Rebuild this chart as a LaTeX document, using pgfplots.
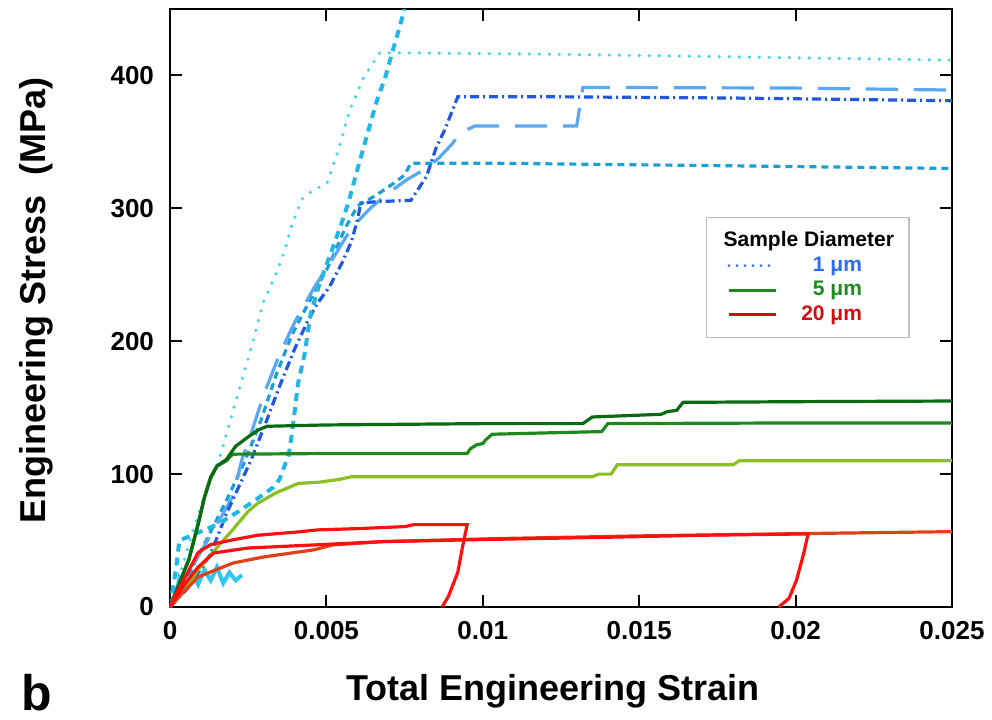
\documentclass[border=0pt]{standalone}
\usepackage{fontspec}
\setmainfont{Liberation Sans}
\usepackage{pgfplots}
\pgfplotsset{compat=1.18}
\definecolor{cdot}{HTML}{40D4F2}
\definecolor{cheavy}{HTML}{22B6E6}
\definecolor{cdashdot}{HTML}{2058E0}
\definecolor{clong}{HTML}{5AA8F0}
\definecolor{cmed}{HTML}{1AA0D8}
\definecolor{cnoise}{HTML}{30C6F2}
\definecolor{gdark}{HTML}{0B6B12}
\definecolor{gmid}{HTML}{1E8A1E}
\definecolor{glight}{HTML}{8CBF26}
\definecolor{rred}{HTML}{FF1010}
\definecolor{rorange}{HTML}{E0401A}
\definecolor{legblue}{HTML}{2A6CF0}
\definecolor{leggreen}{HTML}{1E8A1E}
\definecolor{legred}{HTML}{D01010}
\begin{document}
\begin{tikzpicture}
\begin{axis}[
  width=391pt, height=299pt, scale only axis,
  xmin=0, xmax=0.025, ymin=0, ymax=450,
  xtick={0,0.005,0.01,0.015,0.02,0.025},
  xticklabels={0,0.005,0.01,0.015,0.02,0.025},
  ytick={0,100,200,300,400},
  scaled x ticks=false,
  tick align=inside, major tick length=6pt,
  axis line style={line width=1pt},
  every tick/.style={black, line width=1pt},
  /pgf/number format/assume math mode=true,
  tick label style={font=\fontsize{13}{13}\selectfont\bfseries},
  yticklabel style={xshift=-4.5pt},
  xticklabel style={yshift=-3.5pt},
  xlabel={\bfseries Total Engineering Strain},
  ylabel={\bfseries Engineering Stress\ \ (MPa)},
  label style={font=\fontsize{18}{18}\selectfont},
  xlabel style={at={(axis description cs:0.5,0)}, anchor=center, yshift=-42pt, xshift=-4pt},
  ylabel style={at={([xshift=-67pt]axis description cs:0,0.513)}, anchor=center},
  legend style={at={(axis description cs:0.6854,0.652)}, anchor=north west,
    draw=black!25, line width=0.6pt, font=\fontsize{10.5}{12.5}\selectfont\bfseries,
    inner xsep=10.5pt, inner ysep=5pt, row sep=-0.5pt},
  legend cell align=right,
  legend image code/.code={\draw[#1] (0pt,0pt) -- (23.5pt,0pt);},
]
\coordinate (A) at (rel axis cs:0,0);
\coordinate (B) at (rel axis cs:1,1);
% ---- 1 micrometre samples ----
\addplot[forget plot, cnoise, line width=2pt] coordinates {
(0,0)(0.0002,8)(0.0003,22)(0.0005,14)(0.0007,26)(0.0009,17)(0.0011,28)(0.0013,20)(0.0015,30)(0.0017,18)(0.0019,26)(0.0021,20)(0.0023,24)};
\addplot[forget plot, cmed, line width=1.6pt, dash pattern=on 3.5pt off 2.5pt] coordinates {
(0,0)(0.0006,25)(0.0012,52)(0.0018,80)(0.0024,110)(0.0029,140)(0.0034,175)(0.0039,205)(0.0045,232)(0.0051,258)(0.0056,285)(0.0060,302)(0.0066,310)(0.0071,318)(0.0075,325)(0.0077,334)(0.010,334)(0.018,332)(0.025,330)};
\addplot[forget plot, clong, line width=1.6pt, dash pattern=on 16pt off 8pt] coordinates {
(0,0)(0.0007,30)(0.0014,58)(0.002,83)(0.0023,111)(0.0026,131)(0.003,160)(0.0035,190)(0.004,215)(0.0046,240)(0.0052,262)(0.0058,285)(0.0064,300)(0.0070,312)(0.0076,322)(0.0082,330)(0.0086,338)(0.0090,348)(0.0093,357)(0.00975,362)(0.0130,362)(0.0132,391)(0.02,390.5)(0.025,389)};
\addplot[forget plot, cdashdot, line width=1.6pt, dash pattern=on 4.5pt off 2pt on 1pt off 2pt] coordinates {
(0,0)(0.0006,15)(0.0013,40)(0.0018,70)(0.0026,111)(0.0031,141)(0.0035,166)(0.0040,195)(0.0044,215)(0.0047,228)(0.0051,241)(0.0055,259)(0.0058,275)(0.0060,292)(0.0061,304)(0.0066,305)(0.0077,306)(0.0082,324)(0.0085,345)(0.0088,360)(0.0092,384)(0.012,384)(0.018,383)(0.025,381)};
\addplot[forget plot, cheavy, line width=2pt, dash pattern=on 4pt off 3pt] coordinates {
(0,0)(0.0002,30)(0.0003,50)(0.0008,55)(0.0015,62)(0.0022,72)(0.0027,80)(0.0033,90)(0.0035,96)(0.0038,115)(0.0039,131)(0.0040,150)(0.0041,169)(0.0043,190)(0.0045,221)(0.0048,245)(0.0052,270)(0.0055,290)(0.0057,304)(0.0060,330)(0.0063,355)(0.0066,380)(0.0069,400)(0.0071,417)(0.0073,433)(0.0075,450)};
\addplot[forget plot, cdot, line width=1.8pt, line cap=round, dash pattern=on 0pt off 5pt] coordinates {
(0,0)(0.0002,15)(0.00064,50)(0.00106,81)(0.0016,113)(0.00202,148)(0.00256,192)(0.00298,229)(0.00336,249)(0.00368,269)(0.00384,284)(0.00422,307)(0.00454,313)(0.00502,319)(0.0054,345)(0.00575,374)(0.0062,399)(0.00671,417)(0.0075,417)(0.012,416)(0.018,414)(0.025,411.5)};
% ---- 5 micrometre samples ----
\addplot[forget plot, glight, line width=1.6pt] coordinates {
(0,0)(0.0005,14)(0.0009,28)(0.0014,42)(0.002,58)(0.0025,72)(0.0028,78)(0.0034,86)(0.0041,93)(0.0048,94)(0.0054,96)(0.0058,98)(0.0135,98)(0.0137,100)(0.0141,100)(0.0143,107)(0.018,107)(0.0182,110)(0.025,110)};
\addplot[forget plot, gmid, line width=1.6pt] coordinates {
(0,0)(0.0003,18)(0.0006,36)(0.0009,63)(0.0011,83)(0.0013,98)(0.0015,106)(0.0018,110)(0.0020,115)(0.005,115.5)(0.0095,115.5)(0.0096,119)(0.0098,122)(0.0100,123)(0.0101,126)(0.0103,130)(0.012,131)(0.0138,132)(0.0140,138)(0.02,138.5)(0.025,138.5)};
\addplot[forget plot, gdark, line width=1.6pt] coordinates {
(0,0)(0.0003,18)(0.0006,35)(0.0009,62)(0.0011,82)(0.0013,97)(0.0015,106)(0.0018,111)(0.0021,121)(0.0025,128)(0.0028,133)(0.0031,136)(0.005,137)(0.01,138)(0.0132,138)(0.0135,143)(0.0157,145)(0.0159,147)(0.0162,148)(0.0164,154)(0.02,154.5)(0.025,155)};
% ---- 20 micrometre samples ----
\addplot[forget plot, rorange, line width=1.6pt] coordinates {
(0,0)(0.0003,8)(0.0009,22.6)(0.002,33)(0.003,37.7)(0.0046,43)(0.0052,46.7)(0.0068,49.2)(0.0105,51.5)(0.015,53.5)(0.0204,55.3)(0.025,56.7)};
\addplot[forget plot, rred, line width=1.6pt] coordinates {
(0,0)(0.0002,8)(0.0005,18)(0.0009,30)(0.0014,40.7)(0.0025,44.4)(0.0046,46.7)(0.0068,49.2)(0.0105,51)(0.014,52.5)(0.017,54)(0.0204,55)(0.02026,40.4)(0.02003,20.3)(0.01979,6.5)(0.01946,0)};
\addplot[forget plot, rred, line width=1.6pt] coordinates {
(0,0)(0.0002,10)(0.0005,23)(0.0009,41)(0.0013,47)(0.002,50.5)(0.0028,54)(0.0041,56.5)(0.0047,58)(0.006,59)(0.0075,60.5)(0.0078,62)(0.0095,62)(0.00935,45)(0.0092,26)(0.0089,8)(0.0087,0)};
% ---- legend ----
\addlegendimage{empty legend}
\addlegendentry{\hspace*{-29pt}Sample Diameter\hspace*{-5pt}}
\addlegendimage{legblue, line width=1.5pt, line cap=round, dash pattern=on 0pt off 4pt}
\addlegendentry{\textcolor{legblue}{1 μm}\hspace*{11pt}}
\addlegendimage{leggreen, line width=1.5pt}
\addlegendentry{\textcolor{leggreen}{5 μm}\hspace*{11pt}}
\addlegendimage{legred, line width=1.5pt}
\addlegendentry{\textcolor{legred}{20 μm}\hspace*{11pt}}
\end{axis}
\node[font=\fontsize{25}{25}\selectfont\bfseries] at ([xshift=-66.5pt,yshift=-43pt]A) {b};
\pgfresetboundingbox
\path[use as bounding box] ([xshift=-85pt,yshift=-56pt]A) rectangle ([xshift=20pt,yshift=4.5pt]B);
\end{tikzpicture}
\end{document}
